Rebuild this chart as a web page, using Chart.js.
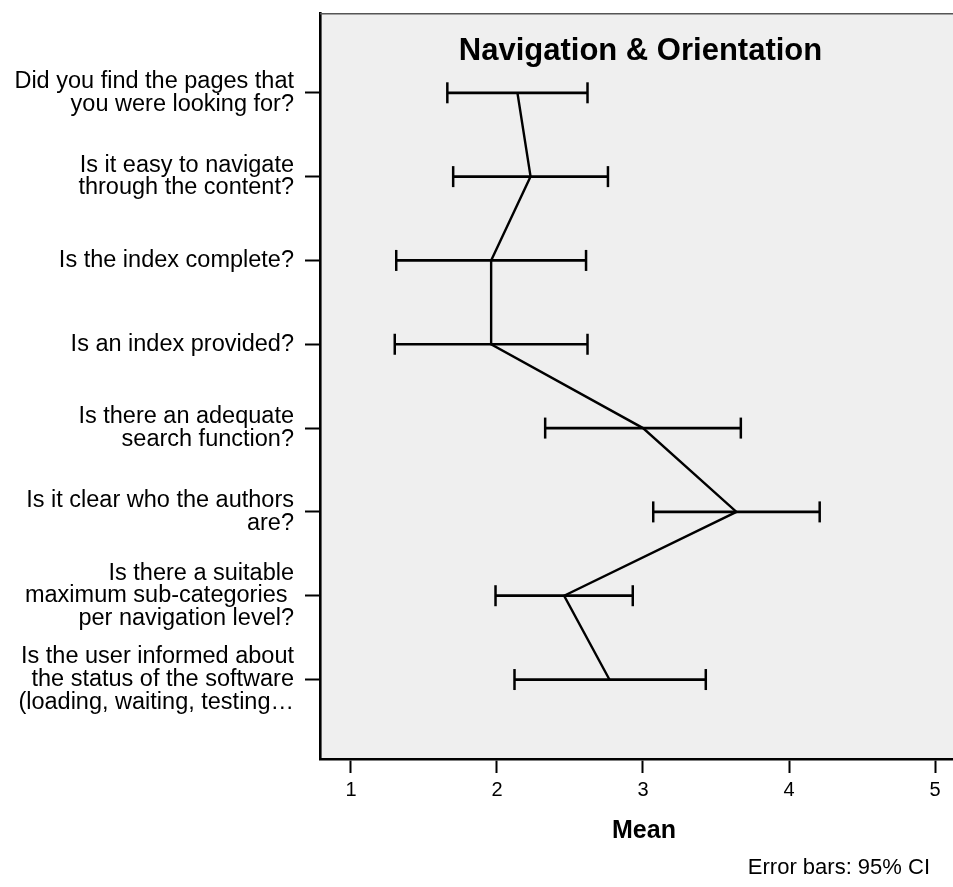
<!DOCTYPE html>
<html>
<head>
<meta charset="utf-8">
<title>Navigation & Orientation</title>
<script src="https://cdn.jsdelivr.net/npm/chart.js@4.4.1/dist/chart.umd.min.js"></script>
<style>
    html, body { margin: 0; padding: 0; background: #ffffff; }
    #wrap { width: 953px; height: 887px; }
</style>
</head>
<body>
<div id="wrap"><canvas id="ciChart" width="953" height="887"></canvas></div>
<script>
// questions, top to bottom (each entry = lines of the tick label)
const questions = [
    ['Did you find the pages that', 'you were looking for?'],
    ['Is it easy to navigate', 'through the content?'],
    ['Is the index complete?'],
    ['Is an index provided?'],
    ['Is there an adequate', 'search function?'],
    ['Is it clear who the authors', 'are?'],
    ['Is there a suitable', 'maximum sub-categories ', 'per navigation level?'],
    ['Is the user informed about', 'the status of the software', '(loading, waiting, testing\u2026']
];

const means    = [2.14, 2.23, 1.96, 1.96, 3.00, 3.64, 2.46, 2.77];
const ciLower  = [1.66, 1.70, 1.31, 1.30, 2.33, 3.07, 1.99, 2.12];
const ciUpper  = [2.62, 2.76, 2.61, 2.62, 3.67, 4.21, 2.93, 3.43];

const xTicks = [1, 2, 3, 4, 5];

const FONT = "'Liberation Sans', Arial, Helvetica, sans-serif";

document.addEventListener('DOMContentLoaded', () => {

    // one small dataset per error bar, caps drawn as rotated 'line' points
    const errorBars = questions.map((q, i) => ({
        data: [{ x: ciLower[i], y: i }, { x: ciUpper[i], y: i }],
        showLine: true,
        borderColor: '#000',
        borderWidth: 2.7,
        pointStyle: 'line',
        rotation: 90,
        pointRadius: 10.5,
        pointBorderWidth: 2.5,
        pointBorderColor: '#000'
    }));

    const meanLine = {
        data: means.map((m, i) => ({ x: m, y: i })),
        showLine: true,
        borderColor: '#000',
        borderWidth: 2.4,
        pointRadius: 0,
        tension: 0
    };

    const plotFrame = {
        id: 'plotFrame',
        beforeDraw(chart) {
            const { ctx, chartArea: a } = chart;
            ctx.save();
            ctx.fillStyle = '#efefef';
            ctx.fillRect(a.left, a.top, a.right - a.left, a.bottom - a.top);
            ctx.restore();
        },
        afterDraw(chart) {
            const { ctx, chartArea: a } = chart;
            ctx.save();
            // thin grey frame line on top
            ctx.strokeStyle = '#555';
            ctx.lineWidth = 1.5;
            ctx.beginPath();
            ctx.moveTo(a.left, a.top + 0.75);
            ctx.lineTo(a.right, a.top + 0.75);
            ctx.stroke();

            // title sits inside the plot
            ctx.fillStyle = '#000';
            ctx.textAlign = 'center';
            ctx.textBaseline = 'middle';
            ctx.font = 'bold 31px ' + FONT;
            ctx.fillText('Navigation & Orientation', (a.left + a.right) / 2 + 4, a.top + 38);

            // axis name and footnote
            ctx.font = 'bold 25px ' + FONT;
            ctx.fillText('Mean', 644, 831);
            ctx.font = '22px ' + FONT;
            ctx.textAlign = 'right';
            ctx.fillText('Error bars: 95% CI', 930, 868);
            ctx.restore();
        }
    };

    new Chart(document.getElementById('ciChart').getContext('2d'), {
        type: 'scatter',
        data: { datasets: [meanLine, ...errorBars] },
        options: {
            responsive: false,
            animation: false,
            events: [],
            layout: { autoPadding: false, padding: { top: 13, right: 0, bottom: 0, left: 0 } },
            plugins: {
                legend: { display: false },
                tooltip: { enabled: false }
            },
            scales: {
                x: {
                    type: 'linear',
                    min: 0.788,
                    max: 5.123,
                    afterBuildTicks: s => { s.ticks = xTicks.map(v => ({ value: v })); },
                    afterFit: s => { s.height = 128; s.paddingLeft = 0; s.paddingRight = 0; },
                    ticks: {
                        color: '#000',
                        font: { family: FONT, size: 20 },
                        padding: 5,
                        maxRotation: 0,
                        autoSkip: false
                    },
                    grid: { drawOnChartArea: false, tickLength: 14, tickColor: '#000', tickWidth: 2 },
                    border: { color: '#000', width: 2.6 }
                },
                y: {
                    type: 'linear',
                    reverse: true,
                    min: -0.952,
                    max: 7.948,
                    afterBuildTicks: s => { s.ticks = questions.map((q, i) => ({ value: i })); },
                    afterFit: s => { s.width = 320; s.paddingTop = 0; s.paddingBottom = 0; },
                    ticks: {
                        color: '#000',
                        font: { family: FONT, size: 23.5, lineHeight: 0.96 },
                        padding: 11,
                        autoSkip: false,
                        callback: v => questions[v]
                    },
                    grid: { drawOnChartArea: false, tickLength: 15, tickColor: '#000', tickWidth: 2 },
                    border: { color: '#000', width: 2.6 }
                }
            }
        },
        plugins: [plotFrame]
    });
});
</script>
</body>
</html>
